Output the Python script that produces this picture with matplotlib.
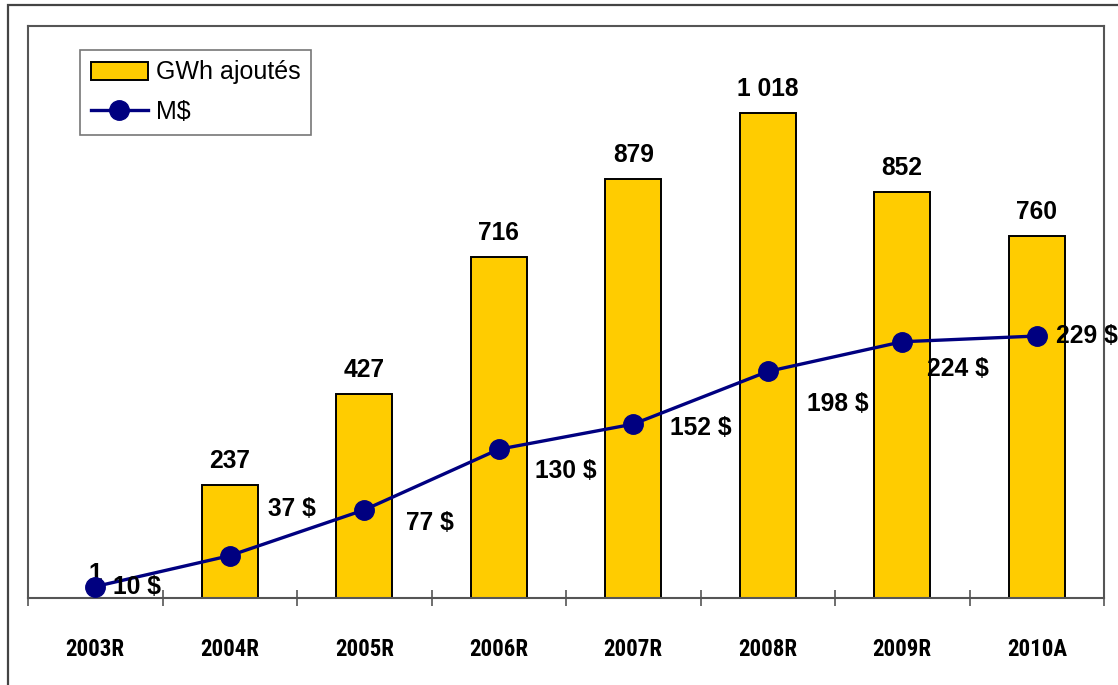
import matplotlib
matplotlib.use("Agg")
import matplotlib.pyplot as plt
from matplotlib.patches import Rectangle
from matplotlib.ticker import FixedLocator
from matplotlib import font_manager
import numpy as np

categories = ["2003R", "2004R", "2005R", "2006R", "2007R", "2008R", "2009R", "2010A"]
gwh = [1, 237, 427, 716, 879, 1018, 852, 760]
mdollars = [10, 37, 77, 130, 152, 198, 224, 229]
gwh_labels = ["1", "237", "427", "716", "879", "1 018", "852", "760"]
money_labels = ["10 $", "37 $", "77 $", "130 $", "152 $", "198 $", "224 $", "229 $"]

# label offsets in pixels (dx, dy), style only
money_offsets = [(42, 0), (62, 47), (66, -13), (67, -22), (68, -4), (70, -33), (56, -27), (50, 0)]

plt.rcParams['font.family'] = ['Liberation Sans', 'DejaVu Sans']

installed = {f.name for f in font_manager.fontManager.ttflist}
if 'Liberation Sans Narrow' in installed:
    tick_font = dict(family=['Liberation Sans Narrow', 'Liberation Sans'], stretch='normal', size=17)
elif 'Roboto Condensed' in installed:
    tick_font = dict(family=['Roboto Condensed', 'Liberation Sans'], stretch='condensed', size=16.5)
elif 'Barlow Semi Condensed' in installed:
    tick_font = dict(family=['Barlow Semi Condensed', 'Liberation Sans'], stretch='condensed', size=16.5)
else:
    tick_font = dict(family=['DejaVu Sans'], stretch='condensed', size=16)

W, H = 1118, 685
fig = plt.figure(figsize=(W / 100, H / 100), dpi=100)
fig.patch.set_facecolor("white")

# outer border
fig.patches.append(Rectangle((8 / W, -0.05), 1.2, (H - 5) / H + 0.05, transform=fig.transFigure,
                             fill=False, edgecolor="#444444", linewidth=1.6))

ax = fig.add_axes([28 / W, (H - 598) / H, (1104 - 28) / W, (598 - 26) / H])
x = np.arange(len(categories))
bars = ax.bar(x, gwh, width=0.42, color="#FFCC00", edgecolor="black", linewidth=1.4,
              label="GWh ajoutés", zorder=2)
ax.set_xlim(-0.5, len(categories) - 0.5)
ax.set_ylim(0, 1200)
ax.set_yticks([])
for s in ["left", "top", "right", "bottom"]:
    ax.spines[s].set_color("#555555")
    ax.spines[s].set_linewidth(1.5)

ax.set_xticks(x)
ax.set_xticklabels(categories)
ax.tick_params(axis="x", which="major", length=0, pad=29)
ax.xaxis.set_minor_locator(FixedLocator(np.arange(-0.5, len(categories), 1.0)))
ax.tick_params(axis="x", which="minor", direction="inout", length=11, width=1.2, color="#555555")
for lbl in ax.get_xticklabels():
    lbl.set_family(tick_font['family'])
    lbl.set_stretch(tick_font['stretch'])
    lbl.set_fontweight("bold")
    lbl.set_fontsize(tick_font['size'])

for xi, v, t in zip(x, gwh, gwh_labels):
    ax.annotate(t, (xi, v), xytext=(0, 12), textcoords="offset pixels",
                ha="center", va="bottom", fontsize=17.7, fontweight="bold")

ax2 = ax.twinx()
ax2.set_ylim(0, 500)
ax2.set_yticks([])
for s in ax2.spines.values():
    s.set_visible(False)
line, = ax2.plot(x, mdollars, color="#000080", linewidth=2.4, marker="o", markersize=14,
                 markerfacecolor="#000080", markeredgecolor="#000080", label="M$", zorder=3)
for xi, v, t, (dx, dy) in zip(x, mdollars, money_labels, money_offsets):
    ax2.annotate(t, (xi, v), xytext=(dx, dy), textcoords="offset pixels",
                 ha="center", va="center", fontsize=17.7, fontweight="bold", annotation_clip=False)

leg = ax.legend([bars, line], ["GWh ajoutés", "M$"], loc="upper left",
                bbox_to_anchor=((80 - 28) / 1076, (598 - 50) / 572), borderaxespad=0,
                fontsize=18, frameon=True, fancybox=False, shadow=False,
                handlelength=2.3, handletextpad=0.3, labelspacing=0.62, borderpad=0.42)
leg.get_frame().set_edgecolor("#555555")
leg.get_frame().set_linewidth(1.2)
leg.set_zorder(10)

fig.savefig("out.png", dpi=100)
